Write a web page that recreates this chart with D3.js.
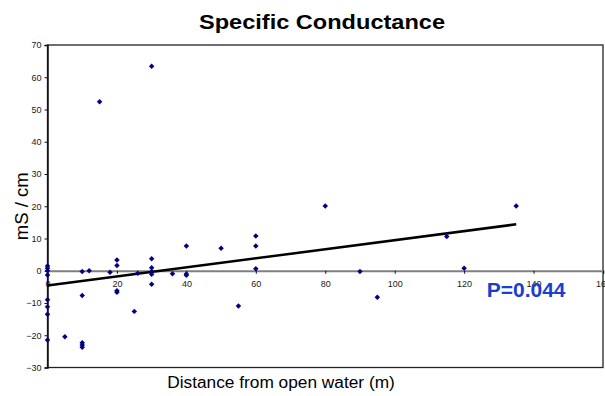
<!DOCTYPE html>
<html>
<head>
<meta charset="utf-8">
<script src="https://cdn.jsdelivr.net/npm/d3@7"></script>
<style>
  body { margin: 0; background: #fff; }
  text { font-family: "Liberation Sans", Arial, sans-serif; }
</style>
</head>
<body>
<svg id="canvas" width="605" height="396"></svg>
<script>
// Data
var distance = [0, 0, 0, 0, 0, 0, 0, 0,
    5, 10, 10, 10, 10, 10, 12, 15, 18,
    20, 20, 20, 20, 25, 26,
    30, 30, 30, 30, 30, 30, 36, 40, 40, 40,
    50, 55, 60, 60, 60, 80, 90, 95, 115, 120, 135];
var conductance = [1.5, 0.8, 0, -1.3, -9, -11.2, -13.5, -21.5,
    -20.5, -0.2, -7.7, -22.3, -23.0, -23.7, 0, 52.4, -0.5,
    3.3, 1.6, -6.2, -6.7, -12.6, -0.8,
    63.4, 3.7, 0.9, -0.2, -1.1, -4.2, -0.9, 7.7, -1.0, -1.4,
    7.0, -10.9, 10.8, 7.7, 0.6, 20.1, -0.2, -8.2, 10.6, 0.8, 20.1];

// Trend line end points
var trendX = [0, 135];
var trendY = [-4.6, 14.4];

var xTicks = [0, 20, 40, 60, 80, 100, 120, 140, 160];
var yTicks = [-30, -20, -10, 0, 10, 20, 30, 40, 50, 60, 70];

var svg = d3.select("#canvas");

// Margin setup
var margin = {top: 45, right: 2, bottom: 28.5, left: 47.5};
var width = +svg.attr("width") - margin.left - margin.right;
var height = +svg.attr("height") - margin.top - margin.bottom;

var g = svg.append("g")
    .attr("transform", "translate(" + margin.left + "," + margin.top + ")");

// Scales
var x = d3.scaleLinear().domain([0, 160]).range([0, width]);
var y = d3.scaleLinear().domain([-30, 70]).range([height, 0]);

// Plot frame
g.append("rect")
    .attr("width", width)
    .attr("height", height)
    .attr("fill", "none")
    .attr("stroke", "#222")
    .attr("stroke-width", 1.3);

// Y axis
var yAxis = g.append("g")
    .call(d3.axisLeft(y).tickValues(yTicks).tickSize(3).tickPadding(3));
yAxis.select(".domain").attr("stroke", "#111").attr("stroke-width", 1.5);
yAxis.selectAll(".tick line").attr("stroke", "#111");
yAxis.selectAll("text").attr("font-size", 9).attr("fill", "#1a1a1a");

// X axis at zero
var xAxis = g.append("g")
    .attr("transform", "translate(0," + y(0) + ")")
    .call(d3.axisBottom(x).tickValues(xTicks).tickSize(3).tickPadding(7));
xAxis.select(".domain").attr("stroke", "#808080").attr("stroke-width", 2);
xAxis.selectAll(".tick line").attr("stroke", "#111");
xAxis.selectAll("text").attr("font-size", 9).attr("fill", "#1a1a1a");

// Trend line
var line = d3.line()
    .x(function(d){ return x(d[0]); })
    .y(function(d){ return y(d[1]); });
g.append("path")
    .datum(d3.zip(trendX, trendY))
    .attr("d", line)
    .attr("fill", "none")
    .attr("stroke", "#000")
    .attr("stroke-width", 2.5);

// Points
var marker = d3.symbol().type(d3.symbolSquare).size(15);
g.selectAll(".pt")
    .data(d3.zip(distance, conductance))
    .enter().append("path")
    .attr("class", "pt")
    .attr("d", marker)
    .attr("transform", function(d){
        return "translate(" + x(d[0]) + "," + y(d[1]) + ") rotate(45)";
    })
    .attr("fill", "#000080");

// P value
g.append("text")
    .attr("x", x(126.5))
    .attr("y", y(0) + 26)
    .attr("font-size", 21)
    .attr("font-weight", "bold")
    .attr("fill", "#1a3fcf")
    .text("P=0.044");

// Titles
svg.append("text")
    .attr("x", 322)
    .attr("y", 28.5)
    .attr("text-anchor", "middle")
    .attr("font-size", 21)
    .attr("font-weight", "bold")
    .attr("textLength", 246)
    .attr("lengthAdjust", "spacingAndGlyphs")
    .text("Specific Conductance");

svg.append("text")
    .attr("x", 281)
    .attr("y", 387.5)
    .attr("text-anchor", "middle")
    .attr("font-size", 17.3)
    .text("Distance from open water (m)");

svg.append("text")
    .attr("transform", "translate(27.5," + (margin.top + height / 2) + ") rotate(-90)")
    .attr("text-anchor", "middle")
    .attr("font-size", 18.5)
    .text("mS / cm");
</script>
</body>
</html>
